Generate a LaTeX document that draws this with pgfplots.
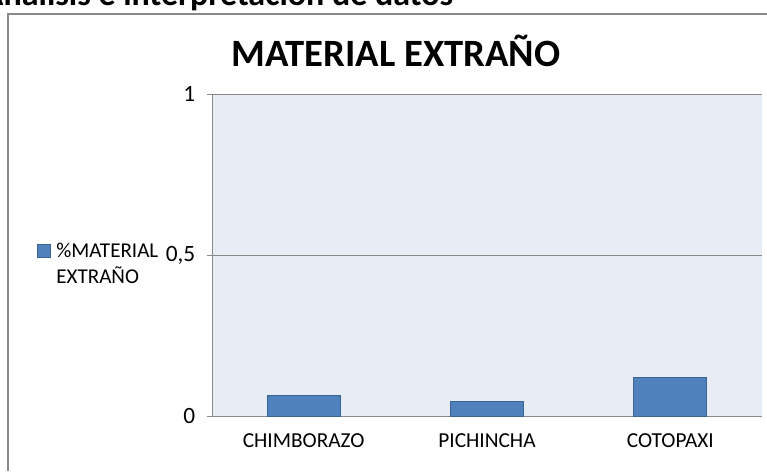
\documentclass[border=0pt]{standalone}
\usepackage{pgfplots}
\pgfplotsset{compat=1.18}
\usepackage{fontspec}
\setmainfont{Carlito}
\definecolor{barblue}{HTML}{4F81BD}
\definecolor{baredge}{HTML}{3A6496}
\definecolor{plotbg}{HTML}{E7ECF5}
\definecolor{gridgray}{HTML}{898989}
\begin{document}
\begin{tikzpicture}
\path[use as bounding box] (0,0) rectangle (575.25pt,-353.25pt);
% outer chart frame
\draw[gridgray, line width=1.5pt] (6.3pt,-353.25pt) -- (6.3pt,-10.6pt) -- (575.25pt,-10.6pt);
% cut-off heading
\node[anchor=base east, inner sep=0pt, font=\bfseries\fontsize{25.5}{28}\selectfont] at (340pt,-3.9pt) {Análisis e interpretación de datos};
% chart title
\node[anchor=base, inner sep=0pt, font=\bfseries\fontsize{29}{32}\selectfont] at (297pt,-49.5pt) {MATERIAL EXTRAÑO};
\begin{axis}[
  at={(159pt,-312pt)}, anchor=south west,
  scale only axis, width=412.5pt, height=241.5pt,
  xmin=-0.5, xmax=2.5, ymin=0, ymax=1,
  ybar, bar width=54.75pt,
  axis background/.style={fill=plotbg},
  axis x line*=bottom, axis y line*=left,
  axis line style={gridgray, line width=0.6pt},
  xtick={0,1,2},
  xticklabels={CHIMBORAZO,PICHINCHA,COTOPAXI},
  x tick style={draw=none},
  extra x ticks={-0.5,0.5,1.5,2.5},
  extra x tick labels={},
  extra x tick style={grid=none, tick style={draw=gridgray, line width=0.6pt}, major tick length=4pt, tick align=outside},
  ytick={0,0.5,1},
  yticklabels={0,{0,5},1},
  y tick style={draw=gridgray, line width=0.6pt},
  tick align=outside, major tick length=4pt,
  ymajorgrids, grid style={gridgray, line width=0.6pt},
  xticklabel style={font=\fontsize{16}{19}\selectfont, yshift=-6pt},
  yticklabel style={font=\fontsize{17.5}{20}\selectfont, xshift=-5pt},
  legend style={draw=none, fill=none, at={(-0.318,0.545)}, anchor=north west, inner sep=0pt,
    column sep=2pt,
    font=\fontsize{15.8}{19.5}\selectfont, cells={align=left}},
  legend image code/.code={\draw[fill=barblue, draw=baredge, line width=0.5pt] (0pt,5.5pt) rectangle (9.75pt,15.25pt);},
]
\addplot[fill=barblue, draw=baredge, line width=0.6pt] coordinates {(0,0.065) (1,0.046) (2,0.121)};
\addlegendentry{\%MATERIAL\\EXTRAÑO}
\end{axis}
\fill[white] (571.9pt,-11.5pt) rectangle (576pt,-354pt);
\end{tikzpicture}
\end{document}
